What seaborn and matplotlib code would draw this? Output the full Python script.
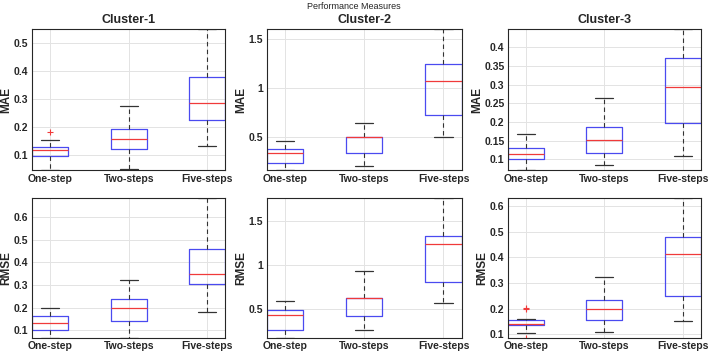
import matplotlib
matplotlib.use('Agg')
import matplotlib.pyplot as plt
from matplotlib.ticker import FormatStrFormatter, MultipleLocator
import seaborn as sns

steps = ['One-step', 'Two-steps', 'Five-steps']
clusters = ['Cluster-1', 'Cluster-2', 'Cluster-3']

# box stats per step: [lower whisker, q1, median, q3, upper whisker]
mae_c1 = [[0.046, 0.095, 0.117, 0.127, 0.152],
          [0.049, 0.120, 0.156, 0.192, 0.274],
          [0.133, 0.224, 0.285, 0.376, 0.549]]
mae_c2 = [[0.160, 0.235, 0.340, 0.378, 0.460],
          [0.207, 0.330, 0.493, 0.503, 0.636],
          [0.497, 0.718, 1.065, 1.238, 1.600]]
mae_c3 = [[0.071, 0.100, 0.113, 0.131, 0.169],
          [0.086, 0.118, 0.153, 0.187, 0.263],
          [0.110, 0.196, 0.293, 0.372, 0.449]]
rmse_c1 = [[0.066, 0.100, 0.131, 0.163, 0.200],
           [0.067, 0.140, 0.200, 0.240, 0.320],
           [0.180, 0.305, 0.348, 0.457, 0.683]]
rmse_c2 = [[0.176, 0.270, 0.440, 0.497, 0.597],
           [0.265, 0.420, 0.630, 0.632, 0.937],
           [0.575, 0.810, 1.243, 1.332, 1.757]]
rmse_c3 = [[0.104, 0.135, 0.139, 0.155, 0.159],
           [0.109, 0.154, 0.200, 0.232, 0.323],
           [0.150, 0.248, 0.414, 0.480, 0.631]]

# outliers per step
mae_c1_out = [[0.182], [], []]
mae_c2_out = [[], [], []]
mae_c3_out = [[], [], []]
rmse_c1_out = [[], [], []]
rmse_c2_out = [[], [], []]
rmse_c3_out = [[0.197, 0.203, 0.085], [], []]

rows = [('MAE', [mae_c1, mae_c2, mae_c3], [mae_c1_out, mae_c2_out, mae_c3_out]),
        ('RMSE', [rmse_c1, rmse_c2, rmse_c3], [rmse_c1_out, rmse_c2_out, rmse_c3_out])]
tick_step = [[0.1, 0.5, 0.05], [0.1, 0.5, 0.1]]

sns.set_theme(style='whitegrid')
plt.rcParams['font.family'] = ['Liberation Sans', 'DejaVu Sans']
plt.rcParams['axes.edgecolor'] = '#262626'
plt.rcParams['grid.color'] = '#e3e3e3'
plt.rcParams['grid.linewidth'] = 0.7

fig = plt.figure(figsize=(7.08, 3.56), dpi=100)
lefts = [0.0452, 0.3767, 0.7175]
widths = [0.273, 0.2754, 0.2722]
bottoms = [0.522, 0.0506]
heights = [0.397, 0.393]

w = 0.46
for r, (metric, data, outs) in enumerate(rows):
    for c in range(3):
        ax = fig.add_axes([lefts[c], bottoms[r], widths[c], heights[r]])
        stats = []
        for s, name in enumerate(steps):
            lo, q1, med, q3, hi = data[c][s]
            stats.append(dict(label=name, whislo=lo, q1=q1, med=med, q3=q3,
                              whishi=hi, fliers=outs[c][s]))
        ax.bxp(stats, positions=[1, 2, 3], widths=w,
               boxprops=dict(color='#4a4af0', lw=0.9),
               medianprops=dict(color='#f03a3a', lw=0.9),
               whiskerprops=dict(color='#333333', ls=(0, (4, 3)), lw=0.8),
               capprops=dict(color='#333333', lw=0.9),
               flierprops=dict(marker='+', markeredgecolor='#f03a3a',
                               markersize=5, mew=0.8))
        vals = [v for row in data[c] for v in row] + [v for o in outs[c] for v in o]
        ax.set_ylim(min(vals), max(vals))
        ax.set_xlim(1 - w / 2, 3 + w / 2)
        ax.yaxis.set_major_locator(MultipleLocator(tick_step[r][c]))
        ax.yaxis.set_major_formatter(FormatStrFormatter('%g'))
        ax.set_xticks([1, 2, 3])
        ax.set_xticklabels(steps)
        ax.tick_params(axis='both', labelsize=7.5, pad=2.5, length=0)
        for lab in ax.get_xticklabels() + ax.get_yticklabels():
            lab.set_fontweight('bold')
            lab.set_color('#262626')
        ax.set_ylabel(metric, fontsize=8.5, fontweight='bold', labelpad=1)
        ax.grid(True, axis='both')
        for sp in ax.spines.values():
            sp.set_linewidth(0.8)
        if r == 0:
            ax.set_title(clusters[c], fontsize=9, fontweight='bold', pad=4)

fig.suptitle('Performance Measures', fontsize=6.5, y=0.995, color='#262626')
fig.savefig('out.png', dpi=100)
